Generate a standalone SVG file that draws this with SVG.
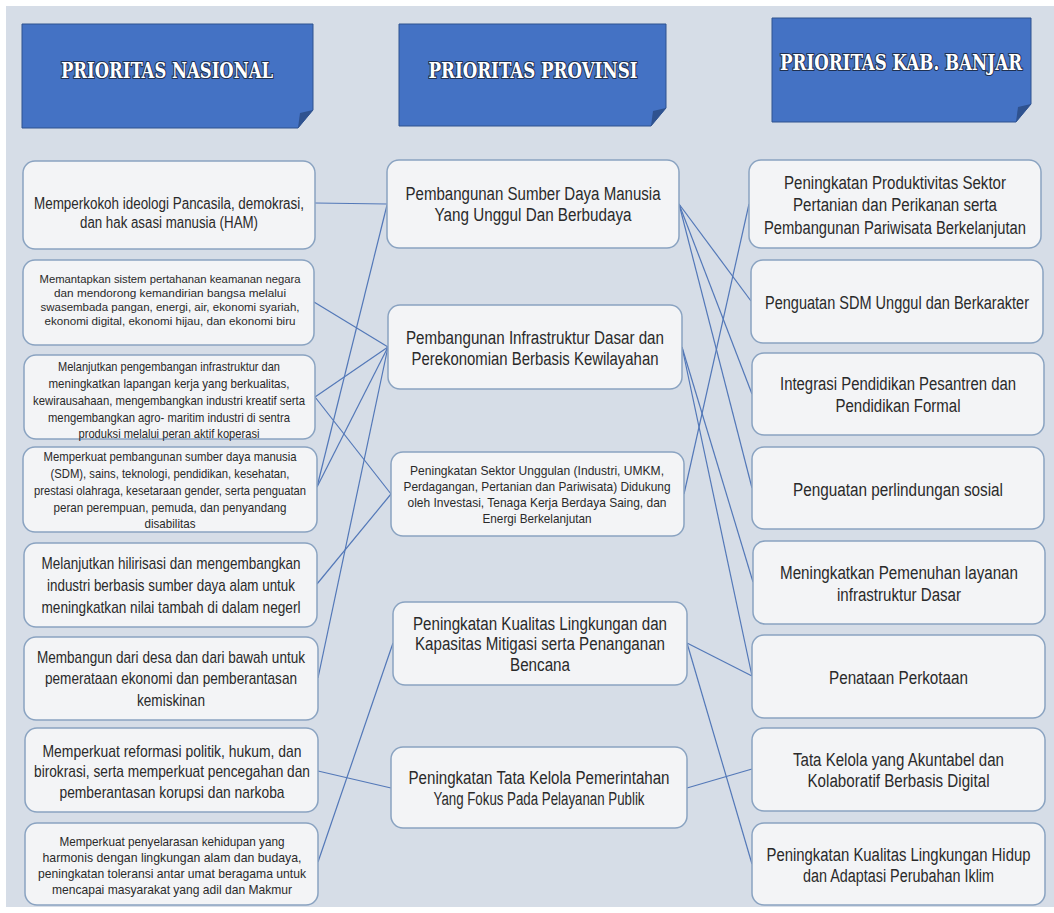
<svg xmlns="http://www.w3.org/2000/svg" width="1054" height="913" viewBox="0 0 1054 913">
<style>
.bg{fill:#d6dde7}
.hdr{fill:#4472c4;stroke:#2f528f;stroke-width:1}
.fold{fill:#2f528f}
.ht{font-family:"DejaVu Serif Condensed","DejaVu Serif","Liberation Serif",serif;font-weight:bold;font-size:22px;fill:#ffffff;stroke:#1f3050;stroke-width:2.2px;paint-order:stroke;text-anchor:middle}
.box{fill:#f3f4f6;stroke:#8aa3c1;stroke-width:1.5}
.t{font-family:"Liberation Sans Narrow","Liberation Sans",Arial,sans-serif;fill:#2a2a2a;text-anchor:middle}
.f18{font-size:18px}.f17{font-size:17px}.f16{font-size:16px}.f135{font-size:13.5px}.f13{font-size:13px}.f115{font-size:11.5px}
.cn line{stroke:#5378b8;stroke-width:1.2;fill:none}
</style>
<rect class="bg" x="6" y="6" width="1048" height="901"/>
<g id="headers">
<g id="h-nasional">
<polygon class="hdr" points="22,24 313,24 313,110 298,128 22,128"/>
<polygon class="fold" points="313,110 298,128 300,113"/>
<text class="ht" x="167" y="78" textLength="212" lengthAdjust="spacingAndGlyphs">PRIORITAS NASIONAL</text>
</g>
<g id="h-provinsi">
<polygon class="hdr" points="399,24 666,24 666,108 651,126 399,126"/>
<polygon class="fold" points="666,108 651,126 653,111"/>
<text class="ht" x="533" y="78" textLength="209" lengthAdjust="spacingAndGlyphs">PRIORITAS PROVINSI</text>
</g>
<g id="h-banjar">
<polygon class="hdr" points="772,18 1031,18 1031,104 1016,122 772,122"/>
<polygon class="fold" points="1031,104 1016,122 1018,107"/>
<text class="ht" x="901" y="70" textLength="242" lengthAdjust="spacingAndGlyphs">PRIORITAS KAB. BANJAR</text>
</g>
</g>
<g id="connectors" class="cn">
<line x1="315" y1="203" x2="387" y2="204"/>
<line x1="317" y1="487" x2="387" y2="205"/>
<line x1="314" y1="302" x2="388" y2="347"/>
<line x1="315" y1="397" x2="388" y2="347"/>
<line x1="317" y1="487" x2="388" y2="347"/>
<line x1="318" y1="678" x2="388" y2="347"/>
<line x1="315" y1="397" x2="391" y2="494"/>
<line x1="317" y1="584" x2="391" y2="494"/>
<line x1="318" y1="862" x2="393" y2="643"/>
<line x1="318" y1="771" x2="391" y2="788"/>
<line x1="684" y1="494" x2="749" y2="204"/>
<line x1="679" y1="204" x2="751" y2="301"/>
<line x1="679" y1="204" x2="752" y2="394"/>
<line x1="679" y1="204" x2="752" y2="488"/>
<line x1="682" y1="347" x2="753" y2="582"/>
<line x1="682" y1="347" x2="752" y2="676"/>
<line x1="687" y1="643" x2="752" y2="676"/>
<line x1="687" y1="643" x2="752" y2="864"/>
<line x1="687" y1="788" x2="752" y2="769"/>
</g>
<g id="L1"><rect class="box" x="23" y="161" width="292" height="88" rx="12"/>
<text class="t f16" x="169" y="209" textLength="270" lengthAdjust="spacingAndGlyphs">Memperkokoh  ideologi Pancasila, demokrasi,</text>
<text class="t f16" x="169" y="228" textLength="178" lengthAdjust="spacingAndGlyphs">dan hak asasi manusia (HAM)</text></g>
<g id="L2"><rect class="box" x="23" y="260" width="291" height="85" rx="12"/>
<text class="t f115" x="170" y="283" textLength="261" lengthAdjust="spacingAndGlyphs">Memantapkan sistem  pertahanan keamanan negara</text>
<text class="t f115" x="170" y="297" textLength="232" lengthAdjust="spacingAndGlyphs">dan mendorong kemandirian bangsa melalui</text>
<text class="t f115" x="170" y="311" textLength="259" lengthAdjust="spacingAndGlyphs">swasembada  pangan, energi, air, ekonomi syariah,</text>
<text class="t f115" x="170" y="325" textLength="251" lengthAdjust="spacingAndGlyphs">ekonomi digital, ekonomi hijau, dan ekonomi biru</text></g>
<g id="L3"><rect class="box" x="24" y="355" width="291" height="84" rx="12"/>
<text class="t f13" x="169" y="371" textLength="222" lengthAdjust="spacingAndGlyphs">Melanjutkan pengembangan infrastruktur dan</text>
<text class="t f13" x="169" y="388" textLength="241" lengthAdjust="spacingAndGlyphs">meningkatkan  lapangan kerja yang  berkualitas,</text>
<text class="t f13" x="169" y="405" textLength="272" lengthAdjust="spacingAndGlyphs">kewirausahaan,  mengembangkan industri kreatif serta</text>
<text class="t f13" x="169" y="422" textLength="242" lengthAdjust="spacingAndGlyphs">mengembangkan agro- maritim industri di sentra</text>
<text class="t f13" x="169" y="438" textLength="181" lengthAdjust="spacingAndGlyphs">produksi  melalui peran aktif koperasi</text></g>
<g id="L4"><rect class="box" x="23" y="447" width="294" height="85" rx="12"/>
<text class="t f135" x="170" y="461" textLength="253" lengthAdjust="spacingAndGlyphs">Memperkuat pembangunan sumber daya manusia</text>
<text class="t f135" x="170" y="478" textLength="239" lengthAdjust="spacingAndGlyphs">(SDM),  sains,  teknologi, pendidikan, kesehatan,</text>
<text class="t f135" x="170" y="495" textLength="272" lengthAdjust="spacingAndGlyphs">prestasi  olahraga, kesetaraan  gender, serta  penguatan</text>
<text class="t f135" x="170" y="512" textLength="233" lengthAdjust="spacingAndGlyphs">peran perempuan, pemuda, dan penyandang</text>
<text class="t f135" x="170" y="528" textLength="51" lengthAdjust="spacingAndGlyphs">disabilitas</text></g>
<g id="L5"><rect class="box" x="24" y="543" width="293" height="84" rx="12"/>
<text class="t f17" x="171" y="569" textLength="259" lengthAdjust="spacingAndGlyphs">Melanjutkan  hilirisasi dan mengembangkan</text>
<text class="t f17" x="171" y="591" textLength="248" lengthAdjust="spacingAndGlyphs">industri berbasis sumber daya alam untuk</text>
<text class="t f17" x="171" y="613" textLength="259" lengthAdjust="spacingAndGlyphs">meningkatkan nilai tambah di dalam negerl</text></g>
<g id="L6"><rect class="box" x="24" y="637" width="294" height="83" rx="12"/>
<text class="t f17" x="171" y="663" textLength="268" lengthAdjust="spacingAndGlyphs">Membangun dari desa dan dari bawah untuk</text>
<text class="t f17" x="171" y="684" textLength="252" lengthAdjust="spacingAndGlyphs">pemerataan ekonomi dan pemberantasan</text>
<text class="t f17" x="171" y="706" textLength="68" lengthAdjust="spacingAndGlyphs">kemiskinan</text></g>
<g id="L7"><rect class="box" x="25" y="728" width="293" height="84" rx="12"/>
<text class="t f17" x="172" y="757" textLength="259" lengthAdjust="spacingAndGlyphs">Memperkuat  reformasi politik, hukum,  dan</text>
<text class="t f17" x="172" y="777" textLength="276" lengthAdjust="spacingAndGlyphs">birokrasi, serta memperkuat pencegahan dan</text>
<text class="t f17" x="172" y="798" textLength="225" lengthAdjust="spacingAndGlyphs">pemberantasan korupsi dan narkoba</text></g>
<g id="L8"><rect class="box" x="25" y="823" width="293" height="82" rx="12"/>
<text class="t f135" x="172" y="846" textLength="225" lengthAdjust="spacingAndGlyphs">Memperkuat  penyelarasan kehidupan yang</text>
<text class="t f135" x="172" y="862" textLength="259" lengthAdjust="spacingAndGlyphs">harmonis  dengan lingkungan  alam dan budaya,</text>
<text class="t f135" x="172" y="878" textLength="268" lengthAdjust="spacingAndGlyphs">peningkatan  toleransi antar umat beragama untuk</text>
<text class="t f135" x="172" y="894" textLength="240" lengthAdjust="spacingAndGlyphs">mencapai  masyarakat  yang adil dan Makmur</text></g>
<g id="M1"><rect class="box" x="387" y="160" width="292" height="88" rx="12"/>
<text class="t f18" x="533" y="199.5" textLength="255" lengthAdjust="spacingAndGlyphs">Pembangunan Sumber Daya Manusia</text>
<text class="t f18" x="533" y="220.5" textLength="197" lengthAdjust="spacingAndGlyphs">Yang Unggul Dan Berbudaya</text></g>
<g id="M2"><rect class="box" x="388" y="305" width="294" height="84" rx="12"/>
<text class="t f18" x="535" y="343.5" textLength="258" lengthAdjust="spacingAndGlyphs">Pembangunan Infrastruktur Dasar dan</text>
<text class="t f18" x="535" y="364.5" textLength="247" lengthAdjust="spacingAndGlyphs">Perekonomian Berbasis Kewilayahan</text></g>
<g id="M3"><rect class="box" x="391" y="452" width="293" height="84" rx="12"/>
<text class="t f135" x="537" y="475" textLength="254" lengthAdjust="spacingAndGlyphs">Peningkatan  Sektor Unggulan  (Industri, UMKM,</text>
<text class="t f135" x="537" y="491" textLength="267" lengthAdjust="spacingAndGlyphs">Perdagangan,  Pertanian  dan Pariwisata) Didukung</text>
<text class="t f135" x="537" y="507" textLength="259" lengthAdjust="spacingAndGlyphs">oleh Investasi, Tenaga Kerja Berdaya Saing, dan</text>
<text class="t f135" x="537" y="523" textLength="109" lengthAdjust="spacingAndGlyphs">Energi  Berkelanjutan</text></g>
<g id="M4"><rect class="box" x="393" y="602" width="294" height="83" rx="12"/>
<text class="t f18" x="540" y="629.5" textLength="254" lengthAdjust="spacingAndGlyphs">Peningkatan Kualitas Lingkungan dan</text>
<text class="t f18" x="540" y="649.5" textLength="250" lengthAdjust="spacingAndGlyphs">Kapasitas Mitigasi serta Penanganan</text>
<text class="t f18" x="540" y="670.5" textLength="60" lengthAdjust="spacingAndGlyphs">Bencana</text></g>
<g id="M5"><rect class="box" x="391" y="747" width="296" height="81" rx="12"/>
<text class="t f18" x="539" y="783.5" textLength="261" lengthAdjust="spacingAndGlyphs">Peningkatan Tata Kelola Pemerintahan</text>
<text class="t f18" x="539" y="804.5" textLength="211" lengthAdjust="spacingAndGlyphs">Yang Fokus Pada Pelayanan Publik</text></g>
<g id="R1"><rect class="box" x="749" y="160" width="292" height="88" rx="12"/>
<text class="t f18" x="895" y="188.5" textLength="222" lengthAdjust="spacingAndGlyphs">Peningkatan Produktivitas Sektor</text>
<text class="t f18" x="895" y="210.5" textLength="204" lengthAdjust="spacingAndGlyphs">Pertanian dan Perikanan serta</text>
<text class="t f18" x="895" y="233.5" textLength="262" lengthAdjust="spacingAndGlyphs">Pembangunan Pariwisata Berkelanjutan</text></g>
<g id="R2"><rect class="box" x="751" y="260" width="292" height="83" rx="12"/>
<text class="t f18" x="897" y="308.5" textLength="264" lengthAdjust="spacingAndGlyphs">Penguatan SDM Unggul dan Berkarakter</text></g>
<g id="R3"><rect class="box" x="752" y="353" width="292" height="82" rx="12"/>
<text class="t f18" x="898" y="389.5" textLength="236" lengthAdjust="spacingAndGlyphs">Integrasi Pendidikan Pesantren dan</text>
<text class="t f18" x="898" y="411.5" textLength="125" lengthAdjust="spacingAndGlyphs">Pendidikan Formal</text></g>
<g id="R4"><rect class="box" x="752" y="447" width="292" height="82" rx="12"/>
<text class="t f18" x="898" y="495.5" textLength="210" lengthAdjust="spacingAndGlyphs">Penguatan perlindungan sosial</text></g>
<g id="R5"><rect class="box" x="753" y="541" width="292" height="83" rx="12"/>
<text class="t f18" x="899" y="578.5" textLength="238" lengthAdjust="spacingAndGlyphs">Meningkatkan Pemenuhan layanan</text>
<text class="t f18" x="899" y="600.5" textLength="124" lengthAdjust="spacingAndGlyphs">infrastruktur Dasar</text></g>
<g id="R6"><rect class="box" x="752" y="635" width="293" height="83" rx="12"/>
<text class="t f18" x="898.5" y="683.5" textLength="139" lengthAdjust="spacingAndGlyphs">Penataan Perkotaan</text></g>
<g id="R7"><rect class="box" x="752" y="728" width="293" height="83" rx="12"/>
<text class="t f18" x="898.5" y="765.5" textLength="211" lengthAdjust="spacingAndGlyphs">Tata Kelola yang Akuntabel dan</text>
<text class="t f18" x="898.5" y="786.5" textLength="182" lengthAdjust="spacingAndGlyphs">Kolaboratif Berbasis Digital</text></g>
<g id="R8"><rect class="box" x="752" y="823" width="293" height="82" rx="12"/>
<text class="t f18" x="898.5" y="860.5" textLength="264" lengthAdjust="spacingAndGlyphs">Peningkatan Kualitas Lingkungan Hidup</text>
<text class="t f18" x="898.5" y="881.5" textLength="191" lengthAdjust="spacingAndGlyphs">dan Adaptasi Perubahan Iklim</text></g>
</svg>
